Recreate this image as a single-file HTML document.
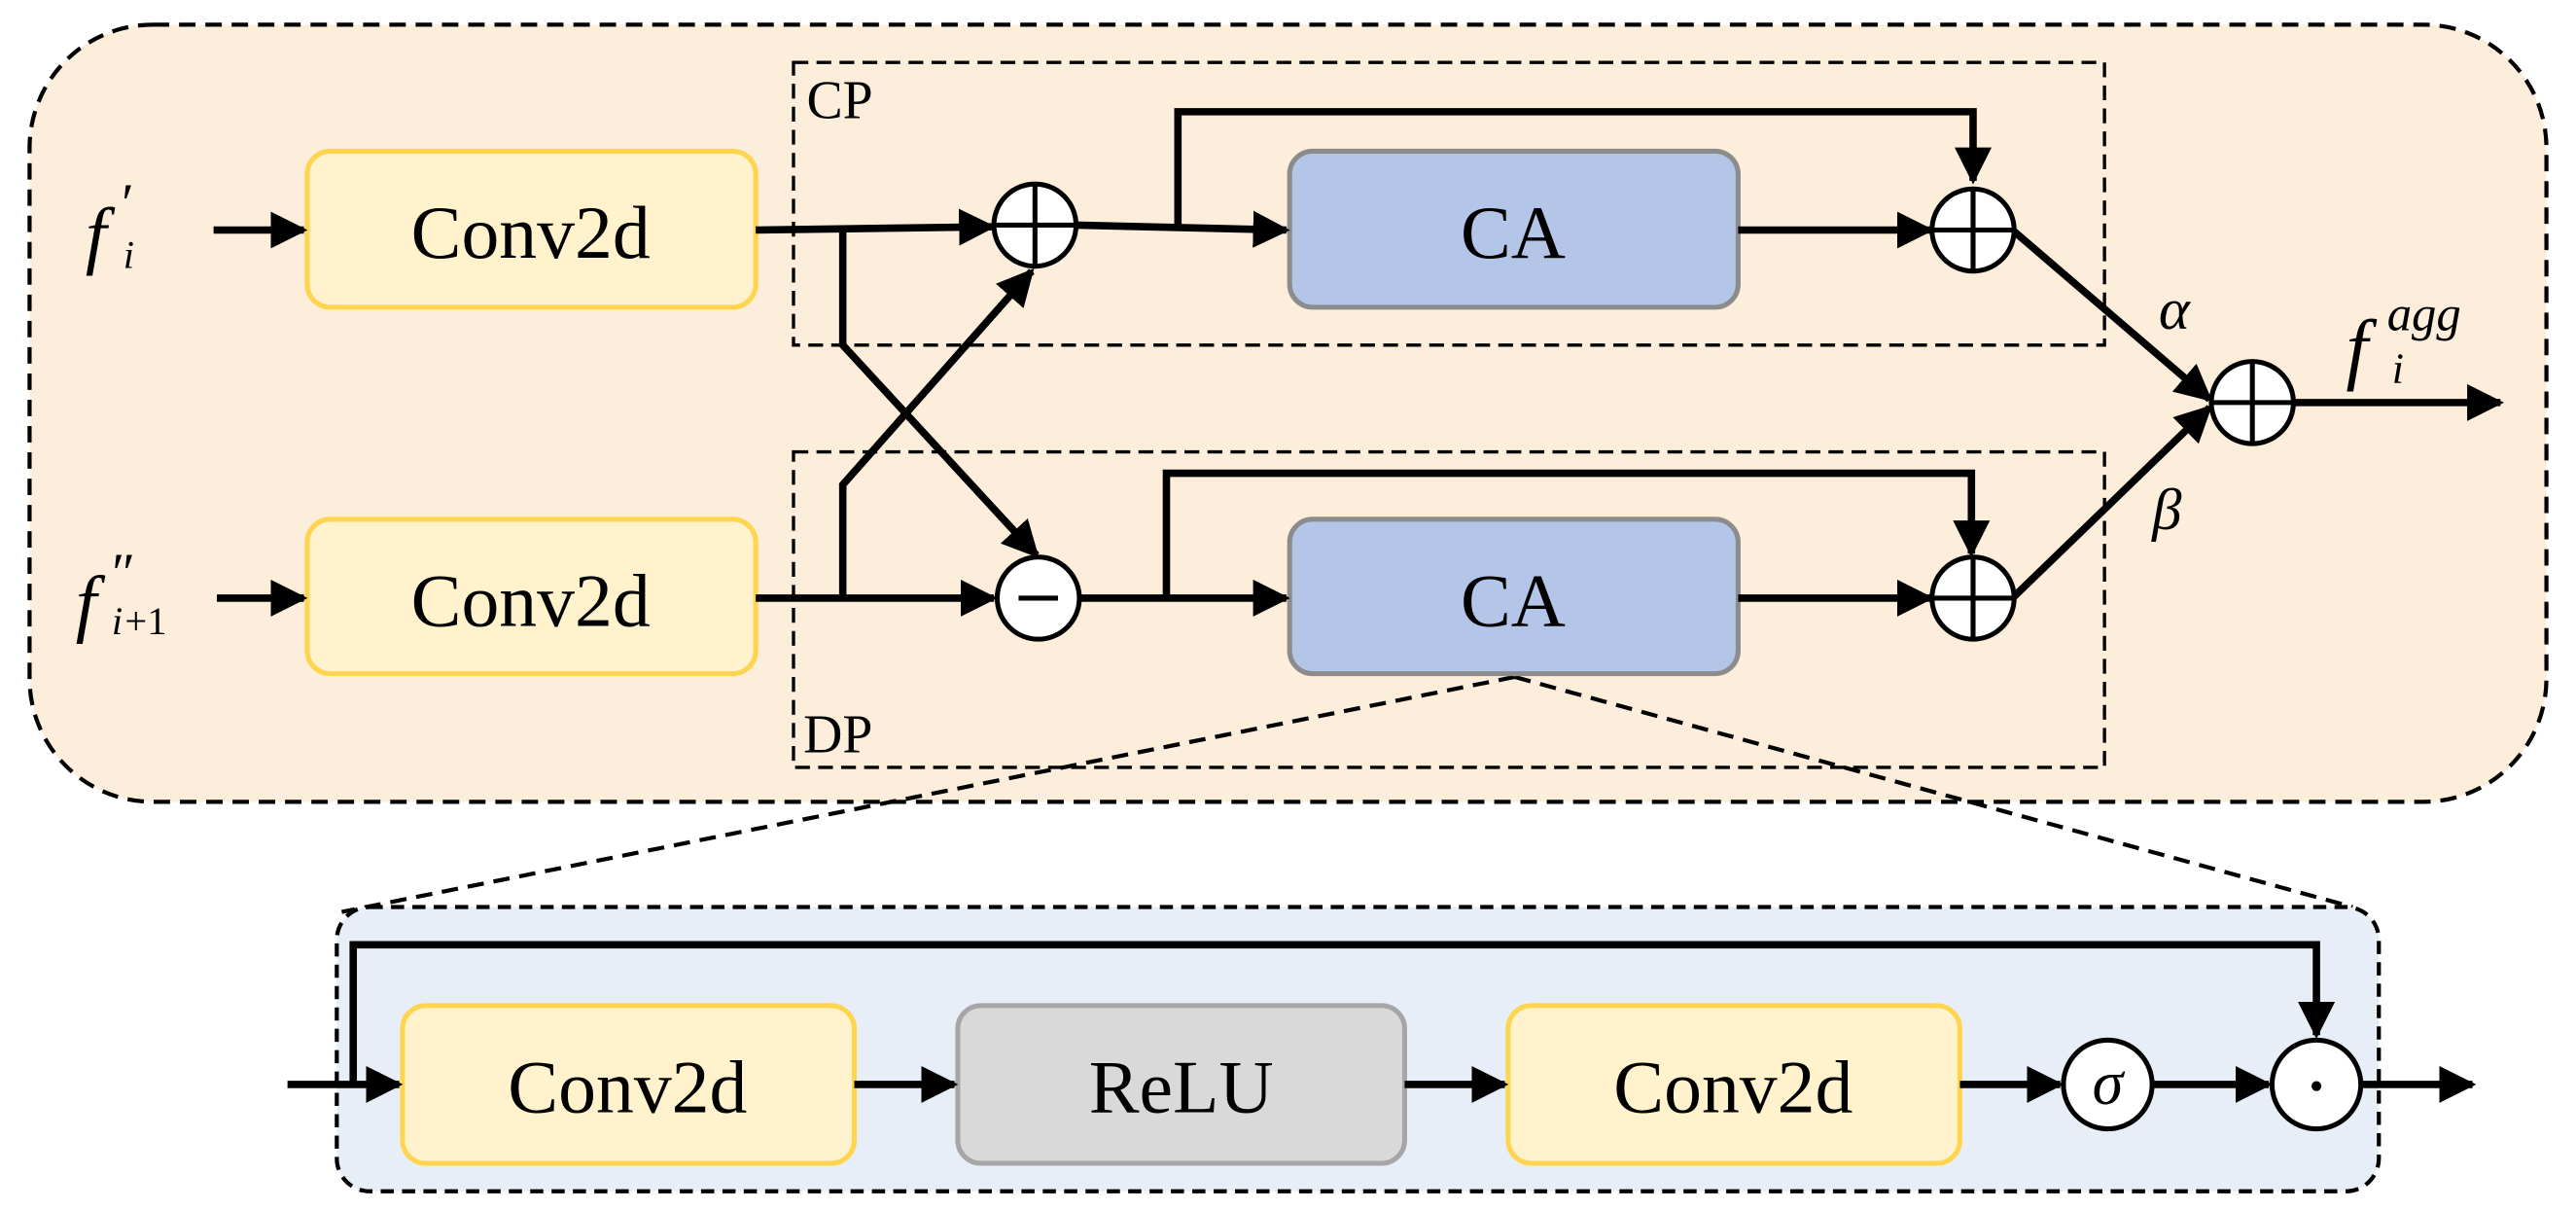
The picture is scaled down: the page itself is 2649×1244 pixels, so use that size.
<!DOCTYPE html>
<html><head><meta charset="utf-8"><style>
html,body{margin:0;padding:0;background:#fff;width:2649px;height:1244px;overflow:hidden}
svg{display:block}
text{font-family:"Liberation Serif",serif;fill:#000}
</style></head><body>
<svg width="2649" height="1244" viewBox="0 0 1568 736.4" preserveAspectRatio="none" xmlns="http://www.w3.org/2000/svg">
<defs>
<marker id="a" viewBox="0 0 10 10" refX="9" refY="5" markerWidth="5" markerHeight="5" orient="auto" markerUnits="strokeWidth"><path d="M0,0 L10,5 L0,10 z" fill="#000"/></marker>
</defs>
<rect x="18" y="15" width="1532" height="473" rx="75" fill="#fdeedc" stroke="#000" stroke-width="2.5" stroke-dasharray="10,6"/>
<line x1="922" y1="412" x2="208" y2="555" stroke="#000" stroke-width="2.5" stroke-dasharray="10,6"/>
<line x1="922" y1="412" x2="1432" y2="552" stroke="#000" stroke-width="2.5" stroke-dasharray="10,6"/>
<rect x="483" y="38" width="798" height="172" fill="none" stroke="#000" stroke-width="2" stroke-dasharray="9,5"/>
<rect x="483" y="275" width="798" height="192" fill="none" stroke="#000" stroke-width="2" stroke-dasharray="9,5"/>
<text x="491" y="72" font-size="33">CP</text>
<text x="489" y="458" font-size="33">DP</text>
<rect x="187" y="92" width="273" height="95" rx="14" fill="#fff2cc" stroke="#ffd54f" stroke-width="3"/>
<rect x="187" y="316" width="273" height="94" rx="14" fill="#fff2cc" stroke="#ffd54f" stroke-width="3"/>
<text x="323" y="157" font-size="46" text-anchor="middle">Conv2d</text>
<text x="323" y="381" font-size="46" text-anchor="middle">Conv2d</text>
<rect x="785" y="92" width="273" height="95" rx="14" fill="#b4c6e7" stroke="#8c8c8c" stroke-width="3"/>
<rect x="785" y="316" width="273" height="94" rx="14" fill="#b4c6e7" stroke="#8c8c8c" stroke-width="3"/>
<text x="921" y="157" font-size="46" text-anchor="middle">CA</text>
<text x="921" y="381" font-size="46" text-anchor="middle">CA</text>
<text x="52" y="158" font-size="46" font-style="italic">f</text>
<text x="72" y="135" font-size="34" font-style="italic">′</text>
<text x="75" y="163" font-size="24" font-style="italic">i</text>
<text x="46" y="382" font-size="46" font-style="italic">f</text>
<text x="66" y="360" font-size="34" font-style="italic">″</text>
<text x="68" y="386" font-size="24" font-style="italic">i</text><text x="76" y="386" font-size="24">+1</text>
<text x="1314" y="200" font-size="36" font-style="italic">α</text>
<text x="1310" y="322" font-size="36" font-style="italic">β</text>
<text x="1428" y="228" font-size="48" font-style="italic">f</text>
<text x="1453" y="201" font-size="30" font-style="italic">agg</text>
<text x="1456" y="233" font-size="26" font-style="italic">i</text>
<g stroke="#000" stroke-width="4.5" fill="none">
<line x1="130" y1="140" x2="185" y2="140" marker-end="url(#a)"/>
<line x1="132" y1="364" x2="185" y2="364" marker-end="url(#a)"/>
<line x1="460" y1="140" x2="604" y2="138" marker-end="url(#a)"/>
<line x1="460" y1="364" x2="605" y2="364" marker-end="url(#a)"/>
<polyline points="513,140 513,210 631,338" marker-end="url(#a)"/>
<polyline points="513,364 513,295 628,165" marker-end="url(#a)"/>
<line x1="655" y1="137" x2="783" y2="140" marker-end="url(#a)"/>
<polyline points="717,139 717,68 1201,68 1201,110" marker-end="url(#a)"/>
<line x1="1058" y1="140" x2="1175" y2="140" marker-end="url(#a)"/>
<line x1="657" y1="364" x2="783" y2="364" marker-end="url(#a)"/>
<polyline points="710,364 710,288 1200,288 1200,337" marker-end="url(#a)"/>
<line x1="1058" y1="364" x2="1175" y2="364" marker-end="url(#a)"/>
<line x1="1225" y1="140" x2="1345" y2="243" marker-end="url(#a)"/>
<line x1="1225" y1="364" x2="1345" y2="248" marker-end="url(#a)"/>
<line x1="1397" y1="245" x2="1522" y2="245" marker-end="url(#a)"/>
</g>
<g stroke="#000" stroke-width="3" fill="#fff">
<circle cx="630" cy="137" r="25"/><circle cx="632" cy="364" r="25"/>
<circle cx="1201" cy="140" r="25"/><circle cx="1201" cy="364" r="25"/>
<circle cx="1371" cy="245" r="25"/>
</g>
<g stroke="#000" stroke-width="3">
<line x1="605" y1="137" x2="655" y2="137"/><line x1="630" y1="112" x2="630" y2="162"/>
<line x1="620" y1="364" x2="644" y2="364"/>
<line x1="1176" y1="140" x2="1226" y2="140"/><line x1="1201" y1="115" x2="1201" y2="165"/>
<line x1="1176" y1="364" x2="1226" y2="364"/><line x1="1201" y1="339" x2="1201" y2="389"/>
<line x1="1346" y1="245" x2="1396" y2="245"/><line x1="1371" y1="220" x2="1371" y2="270"/>
</g>
<rect x="205" y="552" width="1243" height="173" rx="20" fill="#e8eef8" stroke="#000" stroke-width="2.5" stroke-dasharray="8,5"/>
<rect x="245" y="612" width="275" height="96" rx="14" fill="#fff2cc" stroke="#ffd54f" stroke-width="3"/>
<rect x="583" y="612" width="272" height="96" rx="14" fill="#d9d9d9" stroke="#a6a6a6" stroke-width="3"/>
<rect x="918" y="612" width="275" height="96" rx="14" fill="#fff2cc" stroke="#ffd54f" stroke-width="3"/>
<text x="382" y="677" font-size="46" text-anchor="middle">Conv2d</text>
<text x="719" y="677" font-size="46" text-anchor="middle">ReLU</text>
<text x="1055" y="677" font-size="46" text-anchor="middle">Conv2d</text>
<g stroke="#000" stroke-width="4.5" fill="none">
<line x1="175" y1="660" x2="243" y2="660" marker-end="url(#a)"/>
<polyline points="215,660 215,575 1410,575 1410,630" marker-end="url(#a)"/>
<line x1="520" y1="660" x2="581" y2="660" marker-end="url(#a)"/>
<line x1="855" y1="660" x2="916" y2="660" marker-end="url(#a)"/>
<line x1="1193" y1="660" x2="1254" y2="660" marker-end="url(#a)"/>
<line x1="1311" y1="660" x2="1381" y2="660" marker-end="url(#a)"/>
<line x1="1438" y1="660" x2="1505" y2="660" marker-end="url(#a)"/>
</g>
<circle cx="1283" cy="660" r="27" fill="#fff" stroke="#000" stroke-width="3"/>
<circle cx="1410" cy="660" r="27" fill="#fff" stroke="#000" stroke-width="3"/>
<text x="1283" y="672" font-size="38" font-style="italic" text-anchor="middle">σ</text>
<circle cx="1410" cy="661" r="3" fill="#000"/>
</svg>
</body></html>
